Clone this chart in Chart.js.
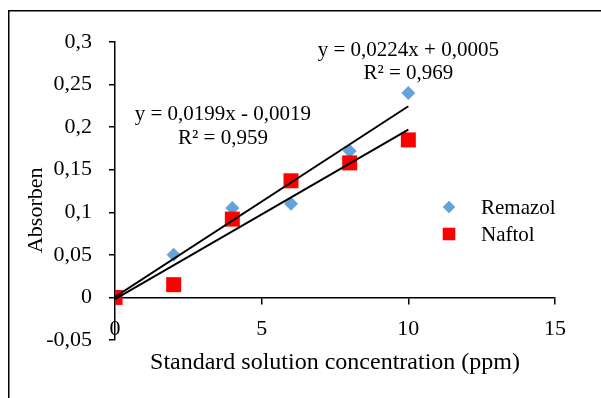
<!DOCTYPE html>
<html>
<head>
<meta charset="utf-8">
<script src="https://cdn.jsdelivr.net/npm/chart.js@4.4.1/dist/chart.umd.min.js"></script>
<style>
  html, body { margin: 0; padding: 0; background: #fff; }
</style>
</head>
<body>
<canvas id="calibChart" width="601" height="398"></canvas>
<script>
// data
const concentrations = [0, 2, 4, 6, 8, 10];
const remazol = [0, 0.05, 0.105, 0.11, 0.172, 0.24];
const naftol = [0, 0.015, 0.092, 0.137, 0.158, 0.185];

// trendline ends (from the printed equations)
const trendX = [0, 10];
const trendRemazol = [0.0005, 0.2245];
const trendNaftol = [-0.0019, 0.1971];

const equationRemazol = ["y = 0,0224x + 0,0005", "R² = 0,969"];
const equationNaftol = ["y = 0,0199x - 0,0019", "R² = 0,959"];

const xTicks = [0, 5, 10, 15];
const yTicks = [-0.05, 0, 0.05, 0.1, 0.15, 0.2, 0.25, 0.3];

const FONT = "'Liberation Serif', 'Times New Roman', serif";

function toPoints(xs, ys) {
    return xs.map((x, i) => ({ x: x, y: ys[i] }));
}

function comma(v) {
    return String(Math.round(v * 100) / 100).replace(".", ",");
}

// outer frame of the picture
const framePlugin = {
    id: "frame",
    beforeDraw(chart) {
        const ctx = chart.ctx;
        ctx.save();
        ctx.fillStyle = "#fff";
        ctx.fillRect(0, 0, chart.width, chart.height);
        ctx.strokeStyle = "#000";
        ctx.lineWidth = 1.5;
        ctx.beginPath();
        ctx.moveTo(8.75, chart.height);
        ctx.lineTo(8.75, 10.75);
        ctx.lineTo(chart.width, 10.75);
        ctx.stroke();
        ctx.restore();
    }
};

// trendline equations + legend on the plot
const labelsPlugin = {
    id: "labels",
    afterDraw(chart) {
        const ctx = chart.ctx;
        const xs = chart.scales.x;
        const ys = chart.scales.y;
        ctx.save();
        ctx.fillStyle = "#000";
        ctx.font = "21px " + FONT;
        ctx.textAlign = "center";
        ctx.textBaseline = "middle";

        let px = xs.getPixelForValue(10);
        let py = ys.getPixelForValue(0.2906);
        ctx.fillText(equationRemazol[0], px, py);
        ctx.fillText(equationRemazol[1], px, py + 23);

        px = xs.getPixelForValue(3.68);
        py = ys.getPixelForValue(0.215);
        ctx.fillText(equationNaftol[0], px, py);
        ctx.fillText(equationNaftol[1], px, py + 24);

        // legend
        const items = [chart.data.datasets[3], chart.data.datasets[2]];
        const lx = 449;
        const rows = [207, 234];
        const sizes = [6, 8.7];
        ctx.textAlign = "left";
        items.forEach((ds, i) => {
            ctx.fillStyle = ds.backgroundColor;
            Chart.helpers.drawPoint(ctx, { pointStyle: ds.pointStyle, radius: sizes[i], borderWidth: 0 }, lx, rows[i]);
            ctx.fill();
            ctx.fillStyle = "#000";
            ctx.fillText(ds.label, 481, rows[i] + 1);
        });
        ctx.restore();
    }
};

const ctx = document.getElementById("calibChart").getContext("2d");

new Chart(ctx, {
    type: "scatter",
    data: {
        datasets: [
            {
                label: "Linear (Remazol)",
                data: toPoints(trendX, trendRemazol),
                showLine: true,
                borderColor: "#000",
                borderWidth: 2,
                pointRadius: 0
            },
            {
                label: "Linear (Naftol)",
                data: toPoints(trendX, trendNaftol),
                showLine: true,
                borderColor: "#000",
                borderWidth: 2,
                pointRadius: 0
            },
            {
                label: "Naftol",
                data: toPoints(concentrations, naftol),
                pointStyle: "rect",
                pointRadius: 10.6,
                borderWidth: 0,
                backgroundColor: "#ff0000"
            },
            {
                label: "Remazol",
                data: toPoints(concentrations, remazol),
                pointStyle: "rectRot",
                pointRadius: 7,
                borderWidth: 0,
                backgroundColor: "#64a2dc"
            }
        ]
    },
    options: {
        responsive: false,
        animation: false,
        devicePixelRatio: 1,
        layout: {
            padding: { left: 8, right: 46, top: 42, bottom: 58 }
        },
        plugins: {
            legend: { display: false },
            tooltip: { enabled: false }
        },
        scales: {
            x: {
                type: "linear",
                position: { y: 0 },
                min: 0,
                max: 15,
                afterBuildTicks: s => { s.ticks = xTicks.map(v => ({ value: v })); },
                afterFit: s => { s.height = 58; },
                grid: {
                    drawOnChartArea: false,
                    drawTicks: true,
                    tickLength: 6,
                    color: "#000",
                    lineWidth: 1.5
                },
                border: { display: true, color: "#000", width: 1.5 },
                ticks: {
                    padding: 13,
                    color: "#000",
                    font: { family: FONT, size: 22 }
                },
                title: {
                    display: true,
                    text: "Standard solution concentration (ppm)",
                    color: "#000",
                    font: { family: FONT, size: 24 },
                    padding: { top: 0, bottom: -22 }
                }
            },
            y: {
                type: "linear",
                position: "left",
                min: -0.05,
                max: 0.3,
                afterBuildTicks: s => { s.ticks = yTicks.map(v => ({ value: v })); },
                afterFit: s => { s.width = 107; },
                grid: {
                    drawOnChartArea: false,
                    drawTicks: true,
                    tickLength: 6,
                    color: "#000",
                    lineWidth: 1.5
                },
                border: { display: true, color: "#000", width: 1.5 },
                ticks: {
                    padding: 17,
                    color: "#000",
                    font: { family: FONT, size: 22 },
                    callback: v => comma(v)
                },
                title: {
                    display: true,
                    text: "Absorben       ",
                    color: "#000",
                    font: { family: FONT, size: 22 },
                    padding: { top: 15, bottom: 0 }
                }
            }
        }
    },
    plugins: [framePlugin, labelsPlugin]
});
</script>
</body>
</html>
